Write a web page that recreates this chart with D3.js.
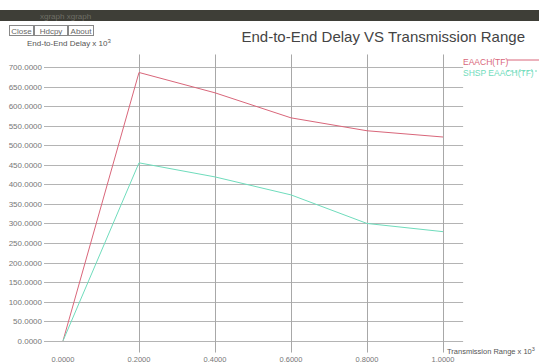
<!DOCTYPE html>
<html>
<head>
<meta charset="utf-8">
<script src="https://cdn.jsdelivr.net/npm/d3@7"></script>
<style>
  html, body { margin: 0; padding: 0; background: #fff; overflow: hidden; }
  svg { display: block; }
  text { font-family: "Liberation Sans", Arial, sans-serif; }
</style>
</head>
<body>
<svg id="chart" width="539" height="363"></svg>
<script>
// Transmission range (x 10^3) and end-to-end delay per protocol
const ranges = [0, 0.2, 0.4, 0.6, 0.8, 1.0];
const eaachDelay = [0, 686, 634, 570, 537, 521];
const shspDelay = [0, 455, 419, 373, 300, 279];
const seriesNames = ["EAACH(TF)", "SHSP EAACH(TF)"];
const seriesColors = ["#d9667a", "#6fdcbc"];
const yTicks = d3.range(0, 701, 50);
const xTicks = [0, 0.2, 0.4, 0.6, 0.8, 1.0];
const buttons = ["Close", "Hdcpy", "About"];

const svg = d3.select("#chart");

// window title bar
svg.append("rect").attr("x", 0).attr("y", 10).attr("width", 539).attr("height", 11)
  .attr("fill", "#3e3e37");
svg.append("text").attr("x", 40).attr("y", 19).attr("font-size", 8)
  .attr("fill", "#6e6e66").text("xgraph  xgraph");

// control buttons
const bx = [9, 34, 68], bw = [24, 33, 25];
buttons.forEach((b, i) => {
  svg.append("rect").attr("x", bx[i] + 0.5).attr("y", 25.5).attr("width", bw[i]).attr("height", 10)
    .attr("fill", "#fff").attr("stroke", "#888");
  svg.append("text").attr("x", bx[i] + bw[i] / 2 + 0.5).attr("y", 33.5)
    .attr("text-anchor", "middle").attr("font-size", 8).attr("fill", "#666").text(b);
});

// title and axis names
svg.append("text").attr("x", 525).attr("y", 42).attr("text-anchor", "end")
  .attr("font-size", 15).attr("fill", "#444").text("End-to-End Delay VS Transmission Range");

const yl = svg.append("text").attr("x", 27).attr("y", 46).attr("font-size", 8).attr("fill", "#555");
yl.append("tspan").text("End-to-End Delay x 10");
yl.append("tspan").attr("dy", -3).attr("font-size", 6).text("3");

const xl = svg.append("text").attr("x", 447).attr("y", 353.5).attr("font-size", 7.5).attr("fill", "#555");
xl.append("tspan").text("Transmission Range x 10");
xl.append("tspan").attr("dy", -3).attr("font-size", 5.5).text("3");

// scales
const x = d3.scaleLinear().domain([0, 1]).range([63, 443]);
const y = d3.scaleLinear().domain([0, 700]).range([340.8, 67]);
const xLo = -0.05, xHi = 1.053, yLo = -30, yHi = 732;

// horizontal grid with value labels
const gy = svg.append("g");
gy.selectAll("line").data(yTicks).join("line")
  .attr("x1", x(xLo)).attr("x2", x(xHi))
  .attr("y1", d => Math.round(y(d)) + 0.5).attr("y2", d => Math.round(y(d)) + 0.5)
  .attr("stroke", "#b4b4b4").attr("stroke-width", 1);
gy.selectAll("text").data(yTicks).join("text")
  .attr("x", 42).attr("y", d => y(d) + 3).attr("text-anchor", "end")
  .attr("font-size", 8).attr("fill", "#777")
  .text(d => d3.format(".4f")(d));

// vertical grid with value labels
const gx = svg.append("g");
gx.selectAll("line").data(xTicks.filter(d => d > 0)).join("line")
  .attr("x1", d => Math.round(x(d)) + 0.5).attr("x2", d => Math.round(x(d)) + 0.5)
  .attr("y1", y(yHi)).attr("y2", y(yLo))
  .attr("stroke", "#a8a8a8").attr("stroke-width", 1);
gx.selectAll("text").data(xTicks).join("text")
  .attr("x", d => x(d)).attr("y", 361.5).attr("text-anchor", "middle")
  .attr("font-size", 7.5).attr("fill", "#777")
  .text(d => d3.format(".4f")(d));

// data lines
const line = d3.line().x((d, i) => x(ranges[i])).y(d => y(d));
[eaachDelay, shspDelay].forEach((vals, i) => {
  svg.append("path").datum(vals).attr("d", line)
    .attr("fill", "none").attr("stroke", seriesColors[i]).attr("stroke-width", 1);
});

// legend
seriesNames.forEach((n, i) => {
  const ly = 60 + i * 11;
  svg.append("line").attr("x1", 507).attr("x2", 539)
    .attr("y1", ly).attr("y2", ly)
    .attr("stroke", seriesColors[i]).attr("stroke-width", 1)
    .attr("stroke-dasharray", i === 1 ? "2,2" : null);
  svg.append("text").attr("x", 463).attr("y", ly + 5).attr("font-size", 8.5)
    .attr("fill", seriesColors[i]).text(n);
});
</script>
</body>
</html>
